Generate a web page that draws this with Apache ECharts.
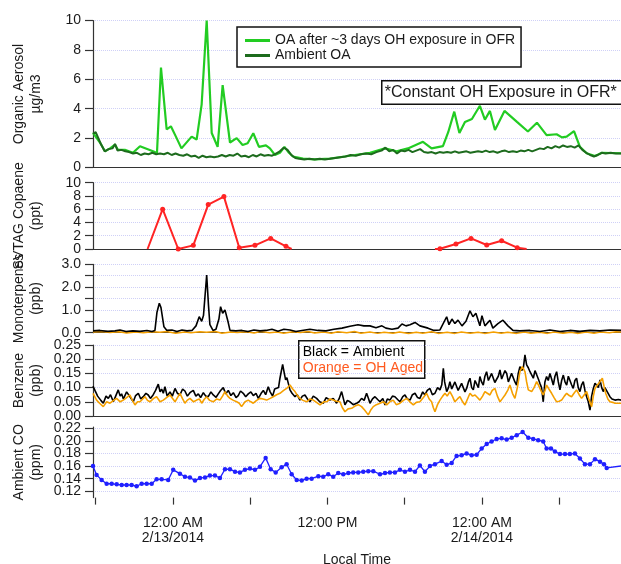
<!DOCTYPE html>
<html>
<head>
<meta charset="utf-8">
<script src="https://cdn.jsdelivr.net/npm/echarts@6/dist/echarts.min.js"></script>
<style>
  html, body { margin: 0; padding: 0; background: #fff; }
  #chart { width: 621px; height: 564px; }
</style>
</head>
<body>
<div id="chart"></div>
<script>
// Time is given in hours relative to 12:00 AM, 2/13/2014 (local time).
const timeRange = [-6.21, 34.8];
const xTickHours = [-6, 0, 6, 12, 18, 24, 30];
const xLabelHours = [0, 12, 24];
const xLabelText = ['12:00 AM\n2/13/2014', '12:00 PM', '12:00 AM\n2/14/2014'];

// Organic aerosol, µg/m3
const oaAfterOFR = [
  [-6.21, 2.35], [-6.06, 2.4], [-5.6, 1.6], [-5.28, 1.1], [-4.89, 1.3], [-4.5, 1.55], [-4.27, 1.2],
  [-3.73, 1.2], [-3.11, 1.0], [-2.56, 1.45], [-1.4, 1.05], [-1.24, 1.0], [-0.93, 6.8], [-0.49, 2.6],
  [-0.16, 2.8], [0.23, 2.1], [0.66, 1.3], [1.45, 2.1], [1.84, 1.9], [2.23, 4.3], [2.62, 10.0],
  [3.01, 2.35], [3.47, 1.4], [3.86, 5.6], [4.43, 1.7], [4.95, 2.0], [5.41, 1.53], [5.8, 1.65],
  [6.24, 2.33], [6.68, 1.4], [7.22, 1.5], [7.53, 1.3], [7.92, 0.85], [8.31, 1.0], [8.66, 1.4],
  [9.01, 1.0], [9.32, 0.75], [10.1, 0.6], [11.03, 0.55], [12.19, 0.6], [13.36, 0.75], [14.14, 0.85],
  [15.3, 1.0], [16.47, 1.3], [17.37, 1.1], [18.25, 1.3], [19.42, 1.75], [20.09, 1.3], [20.97, 1.45],
  [21.38, 2.4], [21.85, 3.8], [22.25, 2.35], [22.68, 3.1], [23.22, 3.3], [23.84, 4.2], [24.23, 3.25],
  [24.62, 3.85], [25.01, 2.55], [25.75, 3.85], [26.72, 3.1], [27.57, 2.45], [28.27, 3.05], [29.02, 2.2],
  [29.8, 2.26], [30.21, 2.05], [30.58, 2.1], [31.15, 2.48], [31.61, 1.4], [32.13, 0.97], [32.78, 0.78],
  [33.32, 1.0], [34.8, 0.97]
];
const oaAmbient = [
  [-6.21, 2.3], [-6.0, 2.4], [-5.6, 1.6], [-5.3, 1.1], [-5.0, 1.25], [-4.7, 1.3], [-4.5, 1.6], [-4.3, 1.15],
  [-4.0, 1.2], [-3.7, 1.1], [-3.4, 1.05], [-3.1, 0.95], [-2.8, 1.0], [-2.5, 0.85], [-2.2, 0.95], [-1.9, 0.9],
  [-1.6, 1.0], [-1.3, 0.9], [-1.0, 0.95], [-0.7, 0.9], [-0.4, 1.0], [-0.1, 0.85], [0.2, 0.95], [0.5, 0.85],
  [0.8, 0.8], [1.1, 0.9], [1.4, 0.75], [1.7, 0.8], [2.0, 0.65], [2.3, 0.8], [2.6, 0.7], [2.9, 0.75],
  [3.2, 0.7], [3.5, 0.75], [3.8, 0.85], [4.1, 0.75], [4.4, 0.85], [4.7, 0.8], [5.0, 0.95], [5.3, 0.75],
  [5.6, 0.8], [5.9, 0.7], [6.2, 0.85], [6.5, 0.75], [6.8, 0.9], [7.1, 0.8], [7.4, 0.85], [7.7, 0.8],
  [8.0, 0.95], [8.3, 1.1], [8.6, 1.35], [8.9, 1.2], [9.2, 0.85], [9.5, 0.65], [9.8, 0.6], [10.2, 0.55],
  [10.6, 0.6], [11.0, 0.55], [11.4, 0.6], [11.8, 0.55], [12.2, 0.6], [12.6, 0.65], [13.0, 0.7], [13.4, 0.75],
  [13.8, 0.85], [14.2, 0.8], [14.6, 0.9], [15.0, 0.95], [15.4, 0.9], [15.8, 1.05], [16.2, 1.15], [16.5, 1.35],
  [16.8, 1.1], [17.1, 1.2], [17.4, 0.95], [17.7, 1.15], [18.0, 1.1], [18.3, 1.2], [18.6, 1.05], [18.9, 1.15],
  [19.2, 1.25], [19.5, 1.05], [19.8, 1.0], [20.1, 1.05], [20.4, 0.95], [20.7, 1.05], [21.0, 1.0], [21.3, 1.05],
  [21.6, 1.0], [21.9, 1.1], [22.2, 1.0], [22.5, 1.05], [22.8, 1.1], [23.1, 1.0], [23.4, 1.05], [23.7, 1.1],
  [24.0, 1.05], [24.3, 1.15], [24.6, 1.05], [24.9, 1.1], [25.2, 1.0], [25.5, 1.1], [25.8, 1.15], [26.1, 1.05],
  [26.4, 1.1], [26.7, 1.05], [27.0, 1.15], [27.3, 1.1], [27.6, 1.2], [27.9, 1.1], [28.2, 1.2], [28.5, 1.3],
  [28.8, 1.25], [29.1, 1.4], [29.4, 1.3], [29.7, 1.45], [30.0, 1.35], [30.3, 1.5], [30.6, 1.4], [30.9, 1.45],
  [31.2, 1.35], [31.5, 1.5], [31.8, 1.2], [32.1, 1.0], [32.4, 0.85], [32.7, 0.75], [33.0, 0.85], [33.3, 1.0],
  [33.6, 0.95], [34.0, 1.0], [34.4, 0.95], [34.8, 0.95]
];

// SVTAG copaene, ppt (null separates the two sampling periods)
const copaene = [
  [-1.97, 0], [-0.8, 6.0], [0.41, 0.0], [1.58, 0.55], [2.74, 6.7], [3.96, 7.9], [5.15, 0.2],
  [6.37, 0.55], [7.59, 1.6], [8.78, 0.4], [9.22, 0],
  null,
  [20.35, 0], [20.74, 0.05], [21.98, 0.75], [23.15, 1.6], [24.37, 0.6], [25.53, 1.25], [26.74, 0.2], [27.47, 0]
];
const copaeneTicks = [0, 2, 4, 6, 8, 10];

// Monoterpenes, ppb
const monoAmbient = [
  [-6.21, 0.08], [-5.67, 0.1], [-5.05, 0.06], [-4.5, 0.08], [-4.12, 0.12], [-3.65, 0.05], [-3.11, 0.08],
  [-2.56, 0.06], [-2.02, 0.1], [-1.63, 0.05], [-1.4, 0.1], [-1.24, 0.9], [-1.06, 1.29], [-0.93, 1.1],
  [-0.7, 0.26], [-0.47, 0.1], [-0.08, 0.12], [0.31, 0.05], [0.7, 0.12], [1.09, 0.08], [1.48, 0.1],
  [1.79, 0.3], [2.04, 0.7], [2.23, 0.5], [2.37, 0.75], [2.62, 2.53], [2.76, 1.2], [2.87, 0.35],
  [3.11, 0.1], [3.34, 0.15], [3.57, 0.6], [3.7, 1.14], [3.86, 0.85], [4.04, 1.0], [4.17, 0.93],
  [4.27, 0.5], [4.43, 0.1], [4.89, 0.08], [5.36, 0.1], [5.83, 0.05], [6.29, 0.12], [6.76, 0.08],
  [7.22, 0.1], [7.69, 0.15], [8.16, 0.06], [8.62, 0.15], [9.09, 0.12], [9.55, 0.05], [10.02, 0.1],
  [10.64, 0.15], [11.26, 0.1], [11.88, 0.08], [12.5, 0.15], [13.13, 0.2], [13.75, 0.28], [14.37, 0.35],
  [14.83, 0.3], [15.3, 0.3], [15.77, 0.22], [16.23, 0.3], [16.54, 0.2], [17.01, 0.15], [17.48, 0.2],
  [17.79, 0.38], [18.1, 0.3], [18.41, 0.35], [18.8, 0.45], [19.18, 0.3], [19.81, 0.2], [20.27, 0.1],
  [20.74, 0.12], [21.26, 0.7], [21.44, 0.35], [21.67, 0.6], [21.9, 0.4], [22.14, 0.55], [22.45, 0.3],
  [22.76, 0.5], [23.07, 0.96], [23.3, 0.7], [23.53, 0.85], [23.84, 0.3], [24.0, 0.75], [24.23, 0.3],
  [24.62, 0.55], [24.85, 0.2], [25.24, 0.4], [25.63, 0.55], [26.02, 0.3], [26.41, 0.1], [26.95, 0.08],
  [27.73, 0.1], [28.5, 0.05], [29.28, 0.12], [30.06, 0.05], [30.83, 0.1], [31.61, 0.06], [32.39, 0.1],
  [33.17, 0.08], [33.94, 0.12], [34.8, 0.1]
];
const monoAged = [
  [-6.21, 0.03], [-5.5, 0.05], [-4.9, 0.01], [-4.2, 0.04], [-3.6, -0.01], [-2.9, 0.03], [-2.3, 0.0],
  [-1.6, 0.04], [-1.0, 0.02], [-0.5, 0.05], [0.2, -0.02], [0.9, 0.03], [1.4, 0.0], [2.1, 0.04],
  [2.6, 0.02], [3.3, 0.05], [3.8, -0.02], [4.5, 0.03], [5.0, 0.01], [5.7, 0.04], [6.3, -0.01],
  [6.8, 0.05], [7.5, 0.0], [8.1, 0.03], [8.6, -0.02], [9.3, 0.04], [9.9, 0.01], [10.5, 0.05],
  [11.0, -0.01], [11.7, 0.03], [12.3, -0.02], [12.8, 0.04], [13.5, 0.0], [14.1, 0.05], [14.6, -0.02],
  [15.3, 0.03], [15.9, -0.03], [16.4, 0.02], [17.1, -0.02], [17.6, 0.03], [18.3, -0.03], [18.9, 0.02],
  [19.4, -0.02], [20.1, 0.04], [20.6, -0.03], [21.3, 0.02], [21.9, -0.03], [22.4, 0.03], [23.1, -0.02],
  [23.7, 0.02], [24.2, -0.03], [24.9, 0.03], [25.5, -0.02], [26.0, 0.02], [26.7, -0.03], [27.3, 0.03],
  [27.8, -0.02], [28.5, 0.02], [29.1, -0.03], [29.6, 0.03], [30.3, -0.02], [30.9, 0.02], [31.4, -0.03],
  [32.1, 0.03], [32.7, -0.02], [33.2, 0.03], [33.9, 0.0], [34.4, 0.04], [34.8, 0.03]
];

// Benzene, ppb
const benzeneAmbient = [
  [-6.21, 0.105], [-6.06, 0.09], [-5.85, 0.07], [-5.6, 0.055], [-5.41, 0.045], [-5.2, 0.07], [-5.02, 0.062],
  [-4.85, 0.075], [-4.63, 0.05], [-4.45, 0.07], [-4.25, 0.092], [-4.1, 0.07], [-3.99, 0.078], [-3.85, 0.06],
  [-3.73, 0.066], [-3.6, 0.085], [-3.47, 0.08], [-3.3, 0.065], [-3.08, 0.05], [-2.9, 0.072], [-2.69, 0.08],
  [-2.5, 0.06], [-2.3, 0.068], [-2.1, 0.08], [-1.92, 0.074], [-1.75, 0.062], [-1.53, 0.075], [-1.35, 0.09],
  [-1.14, 0.112], [-1.0, 0.085], [-0.88, 0.095], [-0.75, 0.08], [-0.62, 0.103], [-0.45, 0.07], [-0.23, 0.085],
  [-0.05, 0.07], [0.16, 0.097], [0.35, 0.08], [0.54, 0.074], [0.75, 0.095], [0.93, 0.088], [1.12, 0.07],
  [1.32, 0.082], [1.45, 0.075], [1.58, 0.09], [1.78, 0.07], [1.97, 0.078], [2.15, 0.065], [2.36, 0.082],
  [2.55, 0.07], [2.74, 0.068], [2.95, 0.085], [3.13, 0.074], [3.35, 0.066], [3.52, 0.078], [3.7, 0.09],
  [3.91, 0.1], [4.1, 0.078], [4.3, 0.09], [4.5, 0.072], [4.69, 0.082], [4.9, 0.065], [5.07, 0.072],
  [5.25, 0.088], [5.46, 0.08], [5.65, 0.068], [5.85, 0.078], [6.05, 0.085], [6.24, 0.072], [6.45, 0.08],
  [6.63, 0.062], [6.85, 0.08], [7.02, 0.09], [7.2, 0.075], [7.4, 0.103], [7.55, 0.085], [7.74, 0.07],
  [7.9, 0.095], [8.05, 0.088], [8.2, 0.1], [8.31, 0.133], [8.52, 0.182], [8.65, 0.15], [8.75, 0.127],
  [8.85, 0.135], [8.96, 0.115], [9.09, 0.092], [9.25, 0.08], [9.48, 0.068], [9.65, 0.075], [9.86, 0.056],
  [10.05, 0.07], [10.25, 0.074], [10.45, 0.06], [10.64, 0.05], [10.9, 0.07], [11.16, 0.062], [11.4, 0.05],
  [11.68, 0.045], [11.9, 0.065], [12.19, 0.056], [12.45, 0.062], [12.71, 0.045], [12.9, 0.06], [13.1, 0.086],
  [13.36, 0.039], [13.55, 0.055], [13.75, 0.05], [14.0, 0.04], [14.27, 0.045], [14.45, 0.05], [14.65, 0.062],
  [14.85, 0.055], [15.04, 0.08], [15.2, 0.06], [15.3, 0.045], [15.5, 0.06], [15.69, 0.068], [15.9, 0.058],
  [16.08, 0.05], [16.3, 0.062], [16.47, 0.039], [16.65, 0.06], [16.85, 0.056], [17.05, 0.07], [17.24, 0.068],
  [17.45, 0.058], [17.63, 0.05], [17.85, 0.068], [18.02, 0.074], [18.2, 0.06], [18.41, 0.056], [18.6, 0.075],
  [18.8, 0.08], [19.0, 0.065], [19.18, 0.062], [19.4, 0.085], [19.57, 0.074], [19.75, 0.09], [19.96, 0.097],
  [20.15, 0.075], [20.35, 0.08], [20.55, 0.1], [20.74, 0.092], [20.88, 0.11], [21.0, 0.168], [21.1, 0.12],
  [21.26, 0.086], [21.4, 0.1], [21.51, 0.121], [21.65, 0.095], [21.77, 0.092], [21.9, 0.12], [22.03, 0.115],
  [22.15, 0.09], [22.29, 0.086], [22.42, 0.115], [22.55, 0.109], [22.68, 0.085], [22.81, 0.097], [22.95, 0.12],
  [23.07, 0.133], [23.2, 0.1], [23.33, 0.092], [23.46, 0.125], [23.59, 0.121], [23.72, 0.1], [23.84, 0.139],
  [23.97, 0.12], [24.1, 0.109], [24.23, 0.14], [24.36, 0.156], [24.5, 0.125], [24.62, 0.121], [24.75, 0.15],
  [24.88, 0.144], [25.0, 0.118], [25.14, 0.115], [25.27, 0.14], [25.4, 0.162], [25.53, 0.13], [25.66, 0.133],
  [25.79, 0.16], [25.92, 0.15], [26.05, 0.12], [26.17, 0.121], [26.3, 0.15], [26.43, 0.156], [26.56, 0.12],
  [26.69, 0.109], [26.82, 0.15], [26.95, 0.174], [27.08, 0.16], [27.21, 0.168], [27.34, 0.215], [27.47, 0.18],
  [27.6, 0.17], [27.73, 0.156], [27.86, 0.145], [27.99, 0.133], [28.12, 0.16], [28.25, 0.162], [28.38, 0.13],
  [28.5, 0.115], [28.63, 0.1], [28.76, 0.05], [28.89, 0.12], [29.02, 0.139], [29.15, 0.125], [29.28, 0.15],
  [29.41, 0.13], [29.54, 0.109], [29.67, 0.14], [29.8, 0.156], [29.93, 0.12], [30.06, 0.092], [30.19, 0.125],
  [30.32, 0.144], [30.45, 0.12], [30.58, 0.109], [30.71, 0.14], [30.83, 0.139], [30.96, 0.11], [31.09, 0.097],
  [31.22, 0.125], [31.35, 0.133], [31.48, 0.1], [31.61, 0.086], [31.74, 0.11], [31.87, 0.121], [32.0, 0.09],
  [32.13, 0.068], [32.26, 0.05], [32.39, 0.021], [32.52, 0.07], [32.65, 0.097], [32.78, 0.115], [32.91, 0.121],
  [33.04, 0.1], [33.17, 0.127], [33.3, 0.1], [33.42, 0.086], [33.55, 0.1], [33.68, 0.097], [33.8, 0.08],
  [33.94, 0.068], [34.1, 0.06], [34.33, 0.056], [34.6, 0.058], [34.8, 0.056]
];
const benzeneAged = [
  [-6.21, 0.08], [-5.93, 0.056], [-5.7, 0.045], [-5.41, 0.033], [-5.15, 0.05], [-4.89, 0.045], [-4.6, 0.055],
  [-4.38, 0.062], [-4.1, 0.05], [-3.86, 0.056], [-3.6, 0.065], [-3.34, 0.074], [-3.15, 0.055], [-2.95, 0.039],
  [-2.75, 0.05], [-2.56, 0.05], [-2.35, 0.06], [-2.17, 0.068], [-1.98, 0.055], [-1.79, 0.05], [-1.5, 0.062],
  [-1.27, 0.068], [-1.0, 0.05], [-0.75, 0.056], [-0.5, 0.065], [-0.23, 0.074], [0.0, 0.06], [0.16, 0.05],
  [0.35, 0.065], [0.54, 0.08], [0.75, 0.06], [0.93, 0.045], [1.1, 0.055], [1.32, 0.062], [1.6, 0.05],
  [1.84, 0.056], [2.05, 0.06], [2.23, 0.045], [2.42, 0.058], [2.61, 0.068], [2.85, 0.055], [3.13, 0.05],
  [3.4, 0.06], [3.65, 0.056], [3.85, 0.07], [4.04, 0.086], [4.25, 0.07], [4.43, 0.062], [4.7, 0.055],
  [4.95, 0.05], [5.15, 0.045], [5.33, 0.033], [5.6, 0.05], [5.85, 0.056], [6.05, 0.05], [6.24, 0.045],
  [6.5, 0.055], [6.76, 0.062], [7.0, 0.06], [7.28, 0.056], [7.55, 0.062], [7.79, 0.068], [8.05, 0.075],
  [8.31, 0.08], [8.6, 0.09], [8.83, 0.097], [9.09, 0.109], [9.3, 0.095], [9.48, 0.086], [9.7, 0.07],
  [9.86, 0.062], [10.1, 0.055], [10.38, 0.05], [10.65, 0.06], [10.9, 0.056], [11.15, 0.048], [11.42, 0.039],
  [11.7, 0.05], [11.94, 0.05], [12.2, 0.06], [12.45, 0.056], [12.7, 0.052], [12.97, 0.05], [13.15, 0.03],
  [13.36, 0.015], [13.6, 0.025], [13.88, 0.027], [14.14, 0.035], [14.4, 0.04], [14.65, 0.033], [14.9, 0.02],
  [15.17, 0.004], [15.35, 0.02], [15.56, 0.033], [15.8, 0.04], [16.08, 0.045], [16.35, 0.05], [16.6, 0.039],
  [16.85, 0.05], [17.11, 0.056], [17.35, 0.04], [17.63, 0.045], [17.9, 0.055], [18.15, 0.062], [18.4, 0.05],
  [18.67, 0.039], [18.9, 0.048], [19.18, 0.05], [19.45, 0.065], [19.7, 0.08], [19.9, 0.06], [20.09, 0.05],
  [20.22, 0.03], [20.35, 0.015], [20.55, 0.04], [20.74, 0.056], [20.95, 0.07], [21.13, 0.08], [21.3, 0.07],
  [21.51, 0.086], [21.7, 0.07], [21.9, 0.05], [22.1, 0.06], [22.29, 0.068], [22.5, 0.05], [22.68, 0.039],
  [22.88, 0.06], [23.07, 0.08], [23.27, 0.07], [23.46, 0.074], [23.65, 0.065], [23.84, 0.056], [24.05, 0.07],
  [24.23, 0.086], [24.42, 0.08], [24.62, 0.074], [24.8, 0.09], [25.01, 0.097], [25.2, 0.07], [25.4, 0.05],
  [25.6, 0.062], [25.79, 0.074], [26.0, 0.09], [26.17, 0.109], [26.37, 0.08], [26.56, 0.062], [26.75, 0.1],
  [26.95, 0.156], [27.13, 0.174], [27.34, 0.156], [27.47, 0.12], [27.6, 0.092], [27.73, 0.095], [27.86, 0.086],
  [28.05, 0.1], [28.25, 0.121], [28.38, 0.11], [28.5, 0.097], [28.63, 0.085], [28.76, 0.074], [28.9, 0.09],
  [29.02, 0.109], [29.2, 0.095], [29.41, 0.08], [29.6, 0.065], [29.8, 0.05], [30.0, 0.052], [30.19, 0.056],
  [30.4, 0.07], [30.58, 0.08], [30.78, 0.072], [30.96, 0.068], [31.15, 0.08], [31.35, 0.092], [31.55, 0.075],
  [31.74, 0.062], [31.95, 0.075], [32.13, 0.086], [32.3, 0.06], [32.52, 0.033], [32.65, 0.07], [32.78, 0.097],
  [32.98, 0.11], [33.17, 0.121], [33.35, 0.133], [33.48, 0.105], [33.61, 0.08], [33.78, 0.06], [33.94, 0.05],
  [34.15, 0.048], [34.33, 0.045], [34.6, 0.045], [34.8, 0.045]
];

// Ambient CO, ppm
const ambientCO = [
  [-6.21, 0.16], [-5.93, 0.146], [-5.54, 0.138], [-5.15, 0.132], [-4.76, 0.132], [-4.37, 0.131], [-3.98, 0.13],
  [-3.6, 0.13], [-3.21, 0.13], [-2.82, 0.128], [-2.43, 0.132], [-2.04, 0.132], [-1.65, 0.132], [-1.27, 0.139],
  [-0.88, 0.139], [-0.37, 0.138], [0.02, 0.154], [0.54, 0.148], [0.93, 0.143], [1.32, 0.142], [1.71, 0.137],
  [2.1, 0.141], [2.49, 0.142], [2.87, 0.145], [3.26, 0.145], [3.65, 0.141], [4.04, 0.155], [4.43, 0.155],
  [4.82, 0.151], [5.2, 0.15], [5.59, 0.154], [5.98, 0.156], [6.37, 0.154], [6.76, 0.159], [7.2, 0.173],
  [7.59, 0.155], [7.98, 0.15], [8.44, 0.158], [8.83, 0.163], [9.22, 0.147], [9.61, 0.138], [10.0, 0.137],
  [10.38, 0.14], [10.77, 0.14], [11.29, 0.144], [11.67, 0.143], [12.06, 0.147], [12.45, 0.143], [12.84, 0.149],
  [13.23, 0.147], [13.62, 0.149], [14.0, 0.15], [14.39, 0.15], [14.78, 0.151], [15.17, 0.152], [15.56, 0.152],
  [16.08, 0.147], [16.47, 0.149], [16.85, 0.15], [17.24, 0.15], [17.63, 0.154], [18.02, 0.151], [18.41, 0.154],
  [18.8, 0.151], [19.18, 0.161], [19.57, 0.151], [19.96, 0.16], [20.35, 0.163], [20.87, 0.168], [21.26, 0.162],
  [21.65, 0.165], [22.03, 0.176], [22.42, 0.177], [22.81, 0.18], [23.2, 0.177], [23.59, 0.178], [23.98, 0.188],
  [24.37, 0.195], [24.75, 0.199], [25.14, 0.203], [25.53, 0.204], [25.92, 0.202], [26.31, 0.205], [26.7, 0.209],
  [27.16, 0.214], [27.6, 0.205], [27.98, 0.203], [28.37, 0.201], [28.76, 0.199], [29.02, 0.188], [29.36, 0.188],
  [29.67, 0.183], [30.06, 0.179], [30.45, 0.179], [30.83, 0.179], [31.22, 0.18], [31.61, 0.172], [32.0, 0.163],
  [32.39, 0.163], [32.78, 0.171], [33.17, 0.167], [33.48, 0.163], [33.69, 0.157], [35.1, 0.161]
];
const coTicks = [0.12, 0.14, 0.16, 0.18, 0.20, 0.22];

const FONT = '"Liberation Sans", Arial, Helvetica, sans-serif';
const AXIS_COLOR = '#333';
const TEXT_COLOR = '#1a1a1a';
const GRID_LINE = { show: true, lineStyle: { color: '#cfd0f7', type: 'dotted', width: 1 } };

// Vertical placement of the five stacked panels (pixels)
const panelBoxes = [
  { top: 20.5, height: 147 },
  { top: 182.7, height: 66.3 },
  { top: 264.3, height: 68.4 },
  { top: 345, height: 71 },
  { top: 427, height: 70.6 }
];

const grids = panelBoxes.map(b => ({
  left: 93, right: 0, top: b.top, height: b.height,
  containLabel: false, outerBoundsMode: 'none'
}));

const xAxes = panelBoxes.map((b, i) => {
  const last = i === panelBoxes.length - 1;
  return {
    type: 'value', gridIndex: i, min: timeRange[0], max: timeRange[1],
    axisLine: { show: !last, onZero: false, lineStyle: { color: AXIS_COLOR, width: 1.2 } },
    axisTick: last ? { show: true, inside: false, length: 7, customValues: xTickHours,
                       lineStyle: { color: AXIS_COLOR, width: 1.2 } } : { show: false },
    axisLabel: last ? {
      show: true, customValues: xLabelHours, margin: 18, fontSize: 14, lineHeight: 15,
      color: TEXT_COLOR, fontFamily: FONT,
      formatter: v => xLabelText[xLabelHours.indexOf(Math.round(v))] || ''
    } : { show: false },
    splitLine: { show: false },
    name: last ? 'Local Time' : '',
    nameLocation: 'middle', nameGap: 56,
    nameTextStyle: { fontSize: 14, color: TEXT_COLOR, fontFamily: FONT }
  };
});

function labelStyle(extra) {
  return Object.assign({
    fontSize: 14, margin: 12, color: TEXT_COLOR, fontFamily: FONT,
    showMinLabel: true, showMaxLabel: true, hideOverlap: false
  }, extra);
}

function yAxis(i, name, extra) {
  return Object.assign({
    type: 'value', gridIndex: i, position: 'left',
    name: name, nameLocation: 'middle', nameRotate: 90, nameGap: 48, nameMoveOverlap: false,
    nameTextStyle: { fontSize: 14, lineHeight: 17, color: TEXT_COLOR, fontFamily: FONT, align: 'center' },
    axisLine: { show: true, onZero: false, lineStyle: { color: AXIS_COLOR, width: 1.2 } },
    axisTick: { show: true, inside: false, length: 8, lineStyle: { color: AXIS_COLOR, width: 1.2 } },
    axisLabel: labelStyle({}),
    splitLine: GRID_LINE
  }, extra);
}

// Closely spaced tick labels are split over two overlaid axes (alternate values on each),
// so that neither axis has neighbouring labels that collide.
function labelOnlyAxis(i, range, values, fmt) {
  return {
    type: 'value', gridIndex: i, position: 'left', min: range[0], max: range[1],
    axisLine: { show: false, onZero: false }, axisTick: { show: false }, splitLine: { show: false },
    axisLabel: labelStyle({ customValues: values, formatter: fmt })
  };
}

const evens = arr => arr.filter((_, k) => k % 2 === 0);
const odds = arr => arr.filter((_, k) => k % 2 === 1);
const fmt2 = v => v.toFixed(2);

const yAxes = [
  yAxis(0, 'Organic Aerosol\nµg/m3', { min: 0, max: 10, interval: 2 }),
  yAxis(1, 'SVTAG Copaene\n(ppt)', {
    min: 0, max: 10, interval: 2,
    axisLabel: labelStyle({ customValues: evens(copaeneTicks) })
  }),
  yAxis(2, 'Monoterpenes\n(ppb)', {
    min: 0, max: 3, interval: 0.5,
    axisLabel: labelStyle({ formatter: v => Math.abs(v - Math.round(v)) < 1e-6 ? v.toFixed(1) : '' })
  }),
  yAxis(3, 'Benzene\n(ppb)', {
    min: 0, max: 0.25, interval: 0.05,
    axisLabel: labelStyle({ formatter: fmt2 })
  }),
  yAxis(4, 'Ambient CO\n(ppm)', {
    min: 0.11, max: 0.222,
    axisTick: { show: true, inside: false, length: 8, customValues: coTicks,
                lineStyle: { color: AXIS_COLOR, width: 1.2 } },
    axisLabel: labelStyle({ customValues: evens(coTicks), formatter: fmt2 })
  }),
  labelOnlyAxis(1, [0, 10], odds(copaeneTicks), v => String(v)),
  labelOnlyAxis(4, [0.11, 0.222], odds(coTicks), fmt2)
];

// Copaene points: segment ends are drawn without a marker
const copaeneData = copaene.map((p, k) => {
  if (!p) return null;
  const isEnd = k === 0 || k === copaene.length - 1 || !copaene[k - 1] || !copaene[k + 1];
  return isEnd ? { value: p, symbol: 'none' } : { value: p };
});

const lineBase = { type: 'line', showSymbol: false, animation: false, connectNulls: false };

const series = [
  Object.assign({}, lineBase, {
    name: 'OA after ~3 days OH exposure in OFR', xAxisIndex: 0, yAxisIndex: 0, data: oaAfterOFR,
    lineStyle: { color: '#22cc22', width: 2.2 }, itemStyle: { color: '#22cc22' }
  }),
  Object.assign({}, lineBase, {
    name: 'Ambient OA', xAxisIndex: 0, yAxisIndex: 0, data: oaAmbient,
    lineStyle: { color: '#1d6b1d', width: 2 }, itemStyle: { color: '#1d6b1d' }
  }),
  Object.assign({}, lineBase, {
    name: 'SVTAG Copaene', xAxisIndex: 1, yAxisIndex: 1, data: copaeneData,
    showSymbol: true, symbol: 'circle', symbolSize: 5,
    lineStyle: { color: '#ff2424', width: 2 }, itemStyle: { color: '#ff2424' }
  }),
  Object.assign({}, lineBase, {
    name: 'Monoterpenes OH Aged', xAxisIndex: 2, yAxisIndex: 2, data: monoAged, clip: false,
    lineStyle: { color: '#f5a000', width: 1.5 }, itemStyle: { color: '#f5a000' }
  }),
  Object.assign({}, lineBase, {
    name: 'Monoterpenes Ambient', xAxisIndex: 2, yAxisIndex: 2, data: monoAmbient,
    lineStyle: { color: '#000', width: 1.6 }, itemStyle: { color: '#000' }
  }),
  Object.assign({}, lineBase, {
    name: 'Benzene Ambient', xAxisIndex: 3, yAxisIndex: 3, data: benzeneAmbient,
    lineStyle: { color: '#000', width: 1.6 }, itemStyle: { color: '#000' }
  }),
  Object.assign({}, lineBase, {
    name: 'Benzene OH Aged', xAxisIndex: 3, yAxisIndex: 3, data: benzeneAged,
    lineStyle: { color: '#f5a000', width: 1.6 }, itemStyle: { color: '#f5a000' }
  }),
  Object.assign({}, lineBase, {
    name: 'Ambient CO', xAxisIndex: 4, yAxisIndex: 4, data: ambientCO,
    showSymbol: true, symbol: 'circle', symbolSize: 4.5,
    lineStyle: { color: '#2020ff', width: 1.3 }, itemStyle: { color: '#2020ff' }
  })
];

const chart = echarts.init(document.getElementById('chart'), null, { renderer: 'canvas' });
chart.setOption({
  backgroundColor: '#fff',
  animation: false,
  textStyle: { fontFamily: FONT },
  grid: grids,
  xAxis: xAxes,
  yAxis: yAxes,
  legend: {
    data: ['OA after ~3 days OH exposure in OFR', 'Ambient OA'],
    orient: 'vertical', left: 237, top: 27,
    padding: [6, 6, 4, 8], itemGap: 0, itemWidth: 25, itemHeight: 3, icon: 'rect',
    borderColor: '#111', borderWidth: 1.5, backgroundColor: '#fff',
    selectedMode: false,
    textStyle: { fontSize: 14, lineHeight: 15, color: TEXT_COLOR, fontFamily: FONT }
  },
  graphic: [
    {
      type: 'group', left: 381, top: 80,
      children: [
        { type: 'rect', shape: { x: 0, y: 0, width: 250, height: 23.5 },
          style: { fill: '#fff', stroke: '#111', lineWidth: 1.5 } },
        { type: 'text', x: 3, y: 12, style: { text: '*Constant OH Exposure in OFR*', fontSize: 16,
          fontFamily: FONT, fill: TEXT_COLOR, verticalAlign: 'middle' } }
      ]
    },
    {
      type: 'group', left: 298, top: 340,
      children: [
        { type: 'rect', shape: { x: 0, y: 0, width: 126, height: 37.5 },
          style: { fill: '#fff', stroke: '#111', lineWidth: 1.5 } },
        { type: 'text', x: 4, y: 11.5, style: { text: 'Black = Ambient', fontSize: 14,
          fontFamily: FONT, fill: '#000', verticalAlign: 'middle' } },
        { type: 'text', x: 4, y: 27.5, style: { text: 'Orange = OH Aged', fontSize: 14,
          fontFamily: FONT, fill: '#ff5a1e', verticalAlign: 'middle' } }
      ]
    }
  ],
  series: series
});
</script>
</body>
</html>
